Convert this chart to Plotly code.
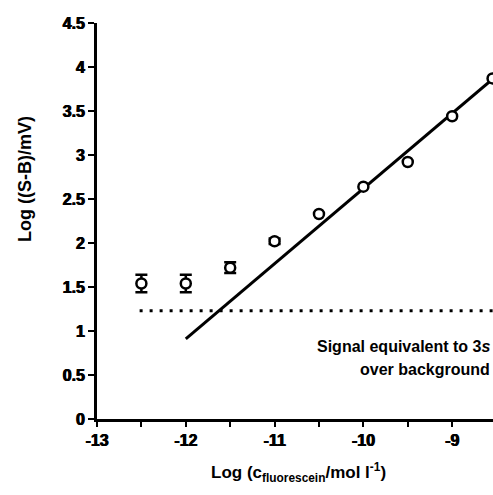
import plotly.graph_objects as go

# Data
log_c = [-12.5, -12.0, -11.5, -11.0, -10.5, -10.0, -9.5, -9.0, -8.545]
log_sb = [1.54, 1.54, 1.72, 2.02, 2.33, 2.64, 2.92, 3.44, 3.87]
err = [0.10, 0.10, 0.06, 0.03, 0.0, 0.0, 0.0, 0.0, 0.0]

fit_x = [-12.0, -8.5]
fit_y = [0.91, 3.90]

lod_x = [-12.52, -8.5]
lod_y = [1.23, 1.23]

x_tickvals = [-13, -12.5, -12, -11.5, -11, -10.5, -10, -9.5, -9]
x_ticktext = ["-13", "", "-12", "", "-11", "", "-10", "", "-9"]
y_tickvals = [0, 0.5, 1, 1.5, 2, 2.5, 3, 3.5, 4, 4.5]
y_ticktext = ["0", "0.5", "1", "1.5", "2", "2.5", "3", "3.5", "4", "4.5"]

FONT = "Liberation Sans, Arial, sans-serif"

# points carrying error bars
eb_x = [x for x, e in zip(log_c, err) if e > 0]
eb_y = [y for y, e in zip(log_sb, err) if e > 0]
eb_e = [e for e in err if e > 0]

fig = go.Figure()

fig.add_trace(go.Scatter(
    x=lod_x, y=lod_y, mode="lines",
    line=dict(color="black", width=3, dash="3px,7px"),
    showlegend=False, hoverinfo="skip"))

fig.add_trace(go.Scatter(
    x=fit_x, y=fit_y, mode="lines",
    line=dict(color="black", width=3),
    showlegend=False, hoverinfo="skip"))

fig.add_trace(go.Scatter(
    x=eb_x, y=eb_y, mode="markers",
    marker=dict(size=1, color="rgba(0,0,0,0)"),
    error_y=dict(type="data", array=eb_e, visible=True,
                 color="black", thickness=2.5, width=6),
    showlegend=False, hoverinfo="skip"))

fig.add_trace(go.Scatter(
    x=log_c, y=log_sb, mode="markers",
    marker=dict(symbol="circle", size=10, color="white",
                line=dict(width=2.5, color="black")),
    showlegend=False, cliponaxis=False))

tickfont = dict(size=16, family=FONT, weight="bold", color="black",
                shadow="0.6px 0 0 black, -0.3px 0 0 black")

fig.update_layout(
    width=493, height=495,
    margin=dict(l=97, r=0, t=23, b=76),
    paper_bgcolor="white", plot_bgcolor="white",
    font=dict(family=FONT, color="black"),
    xaxis=dict(range=[-13, -8.54], showline=True, linewidth=3, linecolor="black",
               ticks="outside", ticklen=5, tickwidth=2, tickcolor="black",
               tickvals=x_tickvals, ticktext=["<b>%s</b>" % t if t else "" for t in x_ticktext],
               tickfont=tickfont,
               showgrid=False, zeroline=False),
    yaxis=dict(range=[0, 4.5], showline=True, linewidth=3, linecolor="black",
               ticks="outside", ticklen=6, tickwidth=2, tickcolor="black",
               tickvals=y_tickvals, ticktext=["<b>%s</b>" % t for t in y_ticktext],
               tickfont=tickfont,
               showgrid=False, zeroline=False),
    annotations=[
        dict(text="<b>Log ((S-B)/mV)</b>", xref="paper", yref="paper",
             x=-0.182, y=0.606, textangle=-90, showarrow=False,
             xanchor="center", yanchor="middle",
             font=dict(size=18, family=FONT)),
        dict(text="<b>Log (c<sub>fluorescein</sub>/mol l<sup>-1</sup>)</b>",
             xref="paper", yref="paper", x=0.508, y=-0.136,
             showarrow=False, xanchor="center", yanchor="middle",
             font=dict(size=17, family=FONT)),
        dict(text="<b>Signal equivalent to 3<i>s</i></b>", xref="paper", yref="y",
             x=0.997, y=0.82, showarrow=False, xanchor="right", yanchor="middle",
             font=dict(size=16, family=FONT)),
        dict(text="<b>over background</b>", xref="paper", yref="y",
             x=0.997, y=0.56, showarrow=False, xanchor="right", yanchor="middle",
             font=dict(size=16, family=FONT)),
    ],
)

fig.write_html("out.html")
